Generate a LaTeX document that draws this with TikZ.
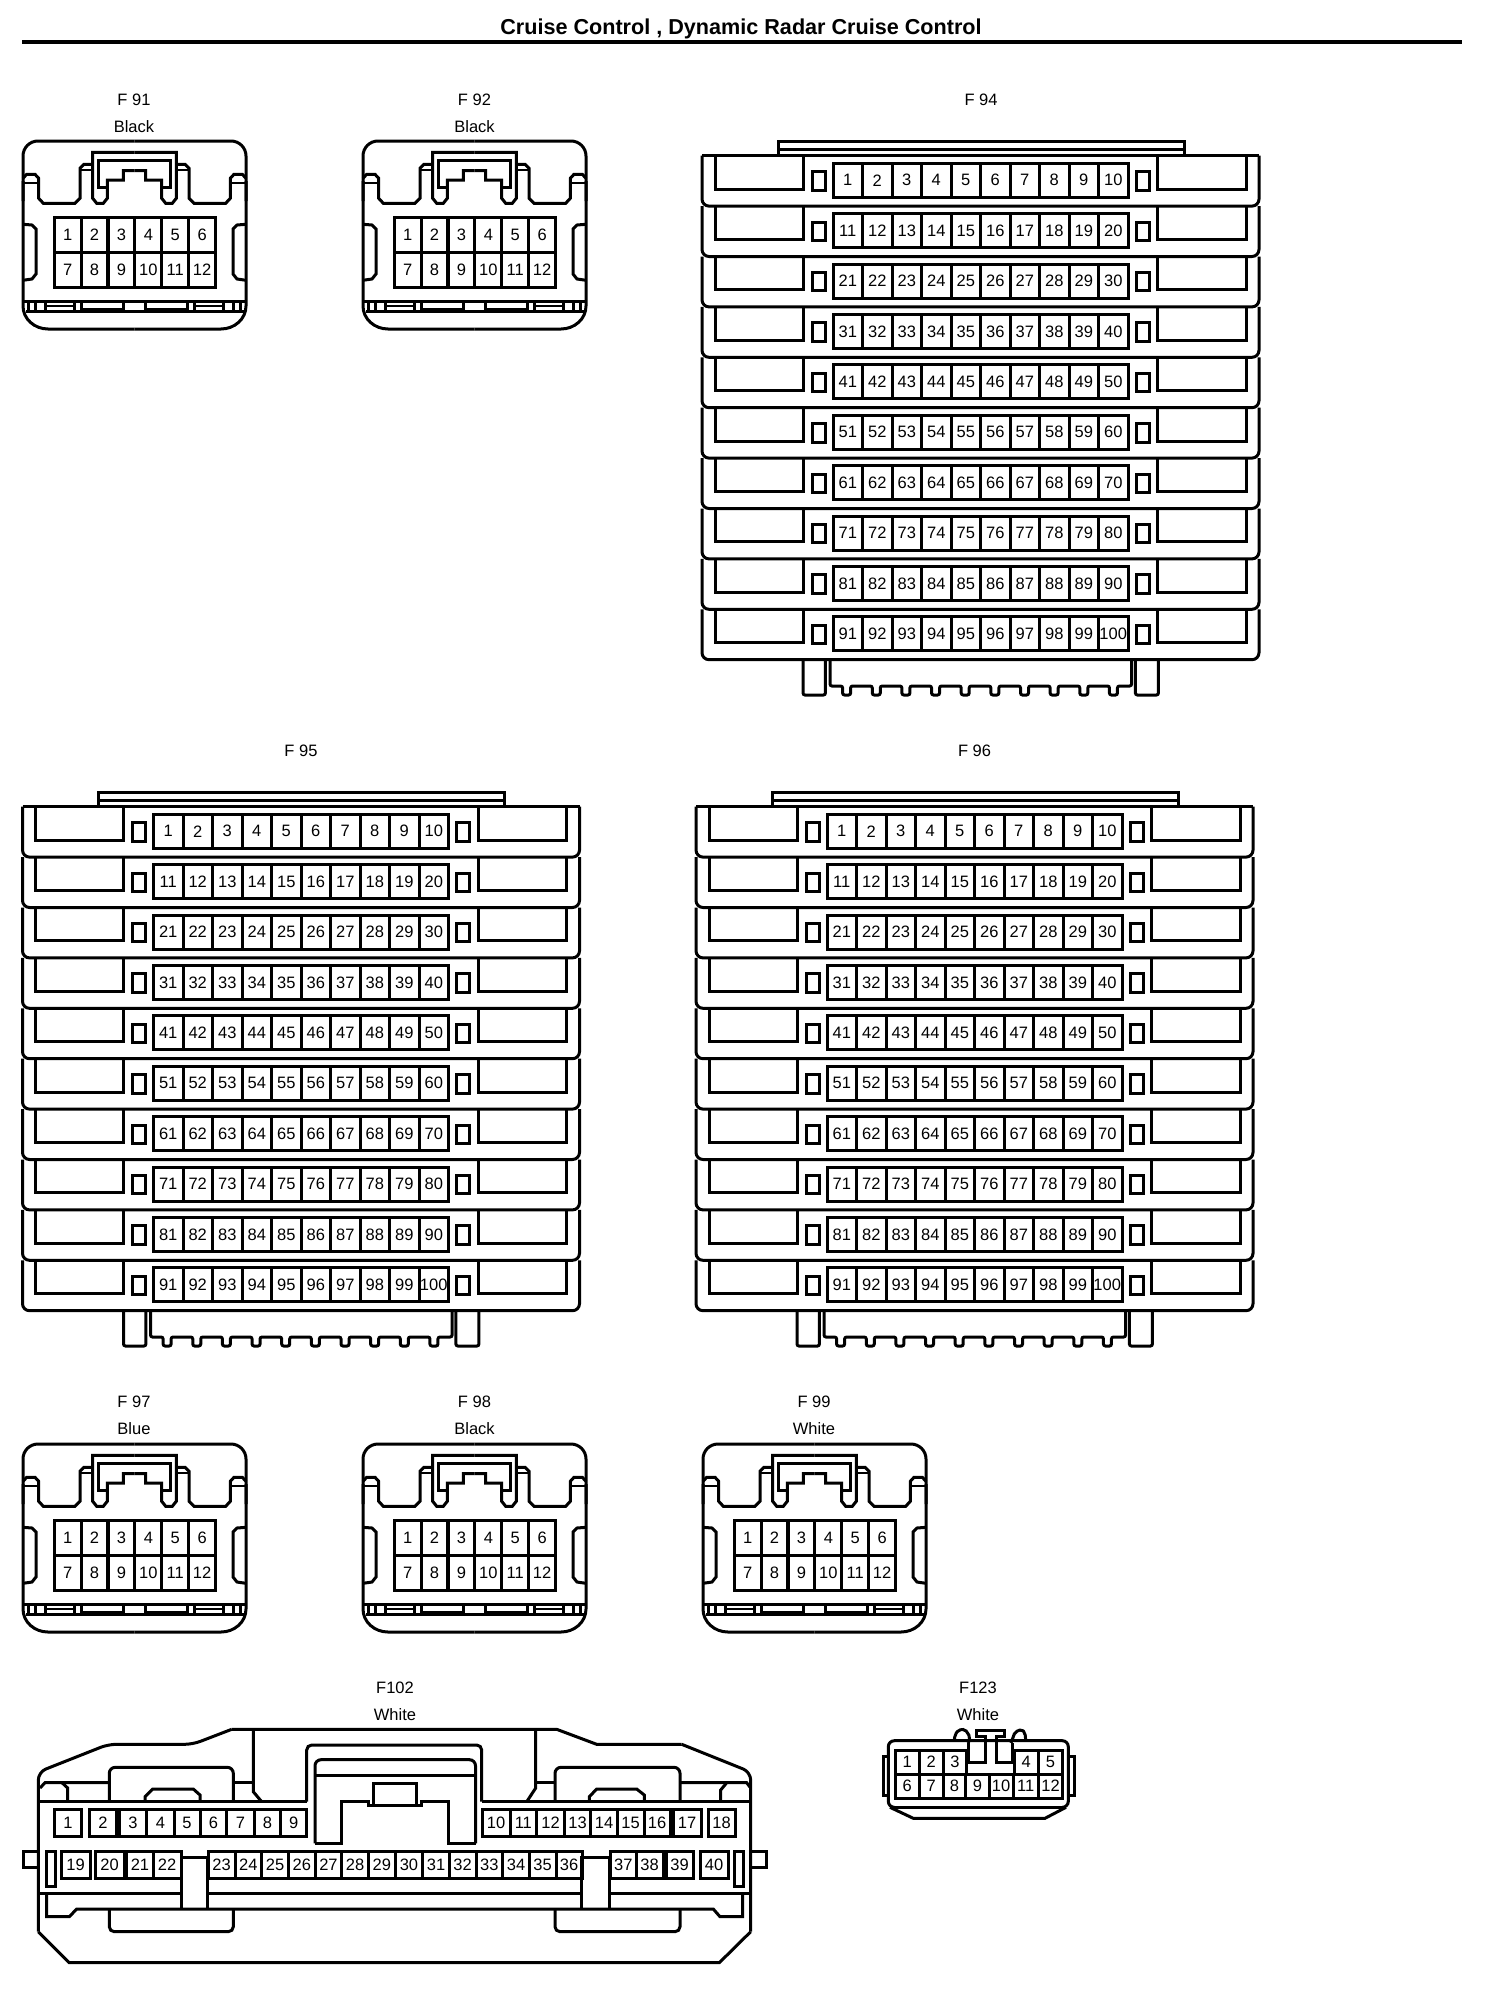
\documentclass[tikz,border=0pt]{standalone}
\usepackage{fontspec}
\setmainfont{Liberation Sans}
\tikzset{
    wire/.style={line width=3pt, line join=miter},
    thinwire/.style={line width=2pt},
    cell/.style={draw, line width=3pt, inner sep=0pt, font=\fontsize{16.5}{16.5}\selectfont},
    lbl/.style={inner sep=0pt, font=\fontsize{16.5}{16.5}\selectfont}
}
% 12 way connector
\newcommand{\smallconn}[3]{
    \begin{scope}[shift={(#2,#3)}]
        \begin{scope}[shift={(111.5,0)}]
            \foreach \sd in {1,-1} {
                \begin{scope}[xscale=\sd]
                    % Shell
                    \draw [wire, rounded corners=15pt] (0, 0) -- (111.5, 0) -- (111.5, 60);
                    \draw [wire] (111.5, 40) -- (111.5, 165) .. controls (111.5, 178) and (100, 188) .. (86.5, 188) -- (0, 188);
                    % Notches
                    \draw [wire] (111.5, 37.3) -- (107.8, 33.3) -- (99.5, 33.3) -- (95.8, 37.3) -- (95.8, 57.3) -- (91.2, 62.3) -- (59.5, 62.3) -- (54.5, 57.3) -- (54.5, 27.3) -- (50.5, 23.3) -- (41.8, 23.3);
                    \draw [thinwire] (111.5, 42) -- (95.8, 42);
                    \draw [thinwire] (54.5, 28.5) -- (41.8, 28.5);
                    % Latch
                    \draw [wire] (0, 11.3) -- (41.8, 11.3) -- (41.8, 57.3) -- (37.8, 62.3) -- (31.2, 62.3) -- (27.2, 57.3) -- (27.2, 39) -- (11.2, 39) -- (11.2, 29.7) -- (0, 29.7);
                    \draw [wire] (0, 19.7) -- (36.2, 19.7) -- (36.2, 46.7) -- (27.2, 46.7);
                    % Clip
                    \draw [wire] (111.5, 83.3) -- (102.5, 84) -- (98.5, 88) -- (98.5, 133) -- (102.5, 138) -- (111.5, 139.3);
                    % Band
                    \draw [wire] (0, 160.7) -- (111.5, 160.7);
                    \draw [wire] (0, 170.7) -- (109, 170.7);
                    \foreach \x in {106, 98.8, 88.8, 60} {
                        \draw [wire] (\x, 160.7) -- (\x, 170.7);
                    }
                    \draw [thinwire] (88.8, 165) -- (60, 165);
                    \draw [wire] (52.8, 160.7) -- (52.8, 168) -- (11.2, 168) -- (11.2, 160.7);
                \end{scope}
            }
        \end{scope}
        % Cavities
        \foreach \c in {1, ..., 6} {
            \pgfmathtruncatemacro{\n}{\c + 6}
            \node [cell, minimum width=27pt, minimum height=35pt] (#1c\c) at ({31.2 + 26.9 * (\c - 0.5)}, 93.5) {\c};
            \node [cell, minimum width=27pt, minimum height=35pt] (#1c\n) at ({31.2 + 26.9 * (\c - 0.5)}, 128.5) {\n};
        }
    \end{scope}
}
% 100 way connector
\newcommand{\bigconn}[3]{
    \begin{scope}[shift={(#2,#3)}]
        % Rail
        \draw [wire] (76, 14.7) -- (76, 0) -- (482.4, 0) -- (482.4, 14.7);
        \draw [wire] (76, 8) -- (482.4, 8);
        \draw [wire] (0, 14.7) -- (557, 14.7);
        \foreach \r in {0, ..., 9} {
            \pgfmathsetmacro{\rt}{14.7 + 50.4 * \r}
            % Rows
            \draw [wire, rounded corners=7pt] (0, \rt) -- (0, \rt + 50.4) -- (557, \rt + 50.4) -- (557, \rt);
            \draw [wire] (13, \rt) -- (13, \rt + 33.3) -- (101.3, \rt + 33.3) -- (101.3, \rt);
            \draw [wire] (544.4, \rt) -- (544.4, \rt + 33.3) -- (455.6, \rt + 33.3) -- (455.6, \rt);
            \draw [wire] (110.3, \rt + 16) rectangle (123, \rt + 34.3);
            \draw [wire] (434, \rt + 16) rectangle (447.4, \rt + 34.3);
            % Cavities
            \foreach \c in {1, ..., 10} {
                \pgfmathtruncatemacro{\n}{10 * \r + \c}
                \node [cell, minimum width=29.5pt, minimum height=34pt] (#1c\n) at ({131 + 29.5 * (\c - 0.5)}, \rt + 24.6) {\n};
            }
        }
        % Feet
        \draw [wire, rounded corners=2pt] (101, 519) -- (101, 554) -- (123.4, 554) -- (123.4, 519);
        \draw [wire, rounded corners=2pt] (433.4, 519) -- (433.4, 554) -- (456.4, 554) -- (456.4, 519);
        \draw [wire, rounded corners=2pt] (128, 519) -- (128, 545) foreach \i in {0, ..., 9} {
            -- ({140.6 + 29.65 * \i}, 545) -- ({140.6 + 29.65 * \i}, 554) -- ({148.6 + 29.65 * \i}, 554) -- ({148.6 + 29.65 * \i}, 545)
        } -- (429.6, 545) -- (429.6, 519);
    \end{scope}
}
\begin{document}
\begin{tikzpicture}[x=1pt, y=-1pt]
    \useasboundingbox (0, 0) rectangle (1504, 2000);
    % Title
    \node [inner sep=0pt, font=\fontsize{21.6}{21.6}\selectfont\bfseries] (title) at (741, 28.5) {Cruise Control , Dynamic Radar Cruise Control};
    \coordinate (ruleleft) at (22, 42);
    \coordinate (ruleright) at (1462, 42);
    \draw [line width=4pt] (ruleleft) -- (ruleright);
    % Connectors
    \smallconn{Fa}{23}{141}
    \smallconn{Fb}{363}{141}
    \bigconn{Fc}{702}{141}
    \bigconn{Fd}{22.5}{792}
    \bigconn{Fe}{696}{792}
    \smallconn{Ff}{23}{1444}
    \smallconn{Fg}{363}{1444}
    \smallconn{Fh}{703}{1444}
    % Labels
    \node [lbl] (nameFa) at (134, 100) {F 91};
    \node [lbl] (colFa) at (134, 127) {Black};
    \node [lbl] (nameFb) at (474.5, 100) {F 92};
    \node [lbl] (colFb) at (474.5, 127) {Black};
    \node [lbl] (nameFc) at (981, 100) {F 94};
    \node [lbl] (nameFd) at (301, 751) {F 95};
    \node [lbl] (nameFe) at (974.5, 751) {F 96};
    \node [lbl] (nameFf) at (134, 1402) {F 97};
    \node [lbl] (colFf) at (134, 1429) {Blue};
    \node [lbl] (nameFg) at (474.5, 1402) {F 98};
    \node [lbl] (colFg) at (474.5, 1429) {Black};
    \node [lbl] (nameFh) at (814, 1402) {F 99};
    \node [lbl] (colFh) at (814, 1429) {White};
    \node [lbl] (nameFi) at (395, 1688) {F102};
    \node [lbl] (colFi) at (395, 1715) {White};
    \node [lbl] (nameFj) at (978, 1688) {F123};
    \node [lbl] (colFj) at (978, 1715) {White};
    % F102 shell
    \draw [wire, rounded corners=8pt] (38.3, 1931.7) -- (38.3, 1772) -- (108.3, 1744.3) -- (192.7, 1744.3) -- (231.7, 1729.3);
    \draw [wire] (231.7, 1729.3) -- (556.7, 1729.3) -- (596.7, 1744.3) -- (681.7, 1744.3);
    \draw [wire, rounded corners=8pt] (681.7, 1744.3) -- (750.7, 1772) -- (750.7, 1931.7) -- (750.7, 1931.7);
    \draw [wire] (750.7, 1931.7) -- (719.3, 1962.7) -- (69.3, 1962.7) -- (38.3, 1931.7);
    % F102 upper part
    \draw [wire] (38.3, 1801.7) -- (306.7, 1801.7);
    \draw [wire] (481.7, 1801.7) -- (750.7, 1801.7);
    \draw [wire, rounded corners=5pt] (306.7, 1801.7) -- (306.7, 1745) -- (481.7, 1745) -- (481.7, 1801.7);
    \draw [wire] (253.3, 1729.3) -- (253.3, 1791.7) -- (261.7, 1801.7);
    \draw [wire] (535.7, 1729.3) -- (535.7, 1788) -- (526.7, 1801.7);
    \draw [wire, rounded corners=6pt] (315, 1843.3) -- (315, 1759.7) -- (475.5, 1759.7) -- (475.5, 1843.3);
    \draw [wire] (475.5, 1843.3) -- (448.3, 1843.3) -- (448.3, 1801) -- (421.7, 1801) -- (421.7, 1805) -- (368.3, 1805) -- (368.3, 1801) -- (341.7, 1801) -- (341.7, 1843.3) -- (315, 1843.3);
    \draw [wire] (373.3, 1805) -- (373.3, 1783.3) -- (416.7, 1783.3) -- (416.7, 1805);
    \draw [wire] (315, 1775) -- (475.5, 1775);
    % F102 bumps
    \draw [wire, rounded corners=6pt] (109.3, 1801.7) -- (109.3, 1767.3) -- (233.3, 1767.3) -- (233.3, 1801.7);
    \draw [wire, rounded corners=6pt] (555, 1801.7) -- (555, 1767.3) -- (680, 1767.3) -- (680, 1801.7);
    \draw [wire] (145, 1801.7) -- (145, 1796.7) -- (152.7, 1789) -- (193.3, 1789) -- (200, 1795) -- (200, 1801.7);
    \draw [wire] (589.3, 1801.7) -- (589.3, 1796.7) -- (596.7, 1789) -- (636.7, 1789) -- (644.3, 1795) -- (644.3, 1801.7);
    \draw [wire] (40, 1788) -- (45, 1782.7) -- (109.3, 1782.7);
    \draw [wire] (62, 1782.7) -- (67.7, 1788) -- (67.7, 1801.7);
    \draw [wire] (233.3, 1782.7) -- (253.3, 1782.7);
    \draw [wire] (535.7, 1782.7) -- (555, 1782.7);
    \draw [wire] (680, 1782.7) -- (746.7, 1782.7) -- (750.7, 1788);
    \draw [wire] (726.7, 1782.7) -- (720.7, 1790) -- (720.7, 1801.7);
    % F102 lower part
    \draw [wire] (38.3, 1893.3) -- (181, 1893.3);
    \draw [wire] (207.3, 1893.3) -- (581.7, 1893.3);
    \draw [wire] (609.3, 1893.3) -- (750.7, 1893.3);
    \draw [wire] (181, 1908.7) -- (181, 1857.3) -- (207.3, 1857.3) -- (207.3, 1908.7);
    \draw [wire] (581.7, 1908.7) -- (581.7, 1857.3) -- (609.3, 1857.3) -- (609.3, 1908.7);
    \draw [wire] (46.7, 1893.3) -- (46.7, 1916.7) -- (69.3, 1916.7) -- (76.7, 1909) -- (713.3, 1909) -- (720, 1916.7) -- (742.7, 1916.7) -- (742.7, 1893.3);
    \draw [wire, rounded corners=5pt] (109.3, 1909) -- (109.3, 1931.7) -- (233.3, 1931.7) -- (233.3, 1909);
    \draw [wire, rounded corners=5pt] (555, 1909) -- (555, 1931.7) -- (680, 1931.7) -- (680, 1909);
    % F102 ears and slots
    \draw [wire] (38.3, 1851.7) -- (23.3, 1851.7) -- (23.3, 1867.7) -- (38.3, 1867.7);
    \draw [wire] (750.7, 1851.7) -- (766, 1851.7) -- (766, 1867.7) -- (750.7, 1867.7);
    \draw [wire] (46.7, 1851.7) rectangle (55, 1886);
    \draw [wire] (734, 1851.7) rectangle (743.3, 1886);
    % F102 cavities
    \foreach \n/\xa/\xb in {1/54.3/81.7, 2/89.3/116.7, 3/119.3/146.7, 4/146.7/174, 5/174/200, 6/200/226.7, 7/226.7/254, 8/254/280.7, 9/280.7/306.7,
        10/482.3/510, 11/510/536.7, 12/536.7/564.3, 13/564.3/590.7, 14/590.7/617.3, 15/617.3/644, 16/644/670, 17/673.3/701, 18/708.3/735} {
        \node [cell, minimum width={(\xb - \xa) * 1pt}, minimum height=27.4pt] (Fic\n) at ({(\xa + \xb) / 2}, 1823) {\n};
    }
    \foreach \n/\xa/\xb in {19/61.3/90, 20/95.3/124, 21/126.7/153.3, 22/153.3/181, 23/208.3/235, 24/235/261.7, 25/261.7/288.4, 26/288.4/315.1, 27/315.1/341.8, 28/341.8/368.5, 29/368.5/395.2,
        30/395.2/422.7, 31/422.7/449.3, 32/449.3/476, 33/476/502.7, 34/502.7/529.3, 35/529.3/556, 36/556/582.3, 37/610.7/636, 38/636/663.3, 39/666/693.3, 40/700/728.3} {
        \node [cell, minimum width={(\xb - \xa) * 1pt}, minimum height=26.6pt] (Fic\n) at ({(\xa + \xb) / 2}, 1865) {\n};
    }
    % F123 shell
    \draw [wire, rounded corners=6pt] (892, 1807.3) -- (888.3, 1807.3) -- (888.3, 1740.7) -- (1068.3, 1740.7) -- (1068.3, 1807.3) -- (1064, 1807.3);
    \draw [wire] (890, 1807.3) -- (1066, 1807.3);
    \draw [wire] (890, 1807.3) -- (913.3, 1818.3) -- (1045, 1818.3) -- (1066, 1807.3);
    \draw [wire] (888.3, 1756.7) -- (883.3, 1756.7) -- (883.3, 1795) -- (888.3, 1795);
    \draw [wire] (1068.3, 1756.7) -- (1074, 1756.7) -- (1074, 1795) -- (1068.3, 1795);
    % F123 latch
    \draw [wire, rounded corners=2pt] (954.3, 1740) -- (955, 1735) -- (958.3, 1730) -- (965, 1729.3) -- (970, 1736.7) -- (968.3, 1743);
    \draw [wire, rounded corners=2pt] (1011, 1743) -- (1015, 1732) -- (1021.7, 1729.3) -- (1025, 1733) -- (1025.7, 1740);
    \draw [wire] (968.3, 1743) -- (968.3, 1762.7) -- (985, 1762.7) -- (985, 1736.7) -- (976.7, 1736.7) -- (976.7, 1730) -- (1004.3, 1730) -- (1004.3, 1736.7) -- (996.7, 1736.7) -- (996.7, 1762.7) -- (1012.3, 1762.7) -- (1012.3, 1743);
    % F123 cavities
    \foreach \n/\xa/\xb in {1/895/919.3, 2/919.3/943.3, 3/943.3/966.7, 4/1014.3/1038.3, 5/1038.3/1062.7} {
        \node [cell, minimum width={(\xb - \xa) * 1pt}, minimum height=24pt] (Fjc\n) at ({(\xa + \xb) / 2}, 1762) {\n};
    }
    \foreach \n/\xa/\xb in {6/895/919.3, 7/919.3/943.3, 8/943.3/965.7, 9/965.7/989, 10/989/1013.3, 11/1013.3/1038.3, 12/1038.3/1062.7} {
        \node [cell, minimum width={(\xb - \xa) * 1pt}, minimum height=24.3pt] (Fjc\n) at ({(\xa + \xb) / 2}, 1786.2) {\n};
    }
\end{tikzpicture}
\end{document}
